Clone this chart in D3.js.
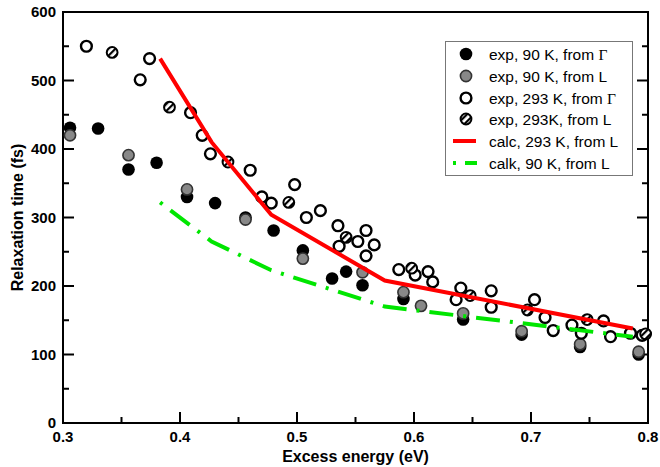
<!DOCTYPE html>
<html><head><meta charset="utf-8">
<script src="https://cdn.jsdelivr.net/npm/d3@7"></script>
<style>
html,body{margin:0;padding:0;background:#fff;}
svg{display:block;font-family:"Liberation Sans",Arial,sans-serif;}
</style></head>
<body>
<svg id="chart" width="660" height="467"></svg>
<script>
// ---- data ----
const exp90G_x = [0.306,0.330,0.356,0.380,0.406,0.430,0.456,0.480,0.505,0.530,0.542,0.556,0.591,0.642,0.692,0.742,0.792];
const exp90G_y = [431,430,370,380,330,321,300,281,252,211,221,201,181,151,129,111,100];

const exp90L_x = [0.306,0.356,0.406,0.456,0.505,0.556,0.591,0.606,0.642,0.692,0.742,0.792];
const exp90L_y = [420,391,341,297,240,220,191,171,160,134,115,104];

const exp293G_x = [0.320,0.366,0.374,0.409,0.419,0.426,0.460,0.470,0.478,0.498,0.508,0.520,0.535,0.536,0.552,0.559,0.566,0.559,0.587,0.601,0.612,0.616,0.640,0.636,0.666,0.666,0.703,0.712,0.719,0.735,0.743,0.762,0.768,0.785,0.795];
const exp293G_y = [550,501,532,453,420,393,369,330,321,348,300,310,288,258,265,281,260,244,224,216,221,206,197,180,193,169,180,154,135,143,131,149,126,131,128];

const exp293L_x = [0.342,0.391,0.441,0.493,0.542,0.598,0.648,0.697,0.748,0.798];
const exp293L_y = [541,461,381,322,271,226,186,165,151,130];

const calc293L_x = [0.383,0.427,0.478,0.575,0.787];
const calc293L_y = [532,410,304,208,138];

const calk90L_x = [0.383,0.427,0.478,0.575,0.787];
const calk90L_y = [322,265,223,170,126];

const xTicks = [0.3,0.4,0.5,0.6,0.7,0.8];
const yTicks = [0,100,200,300,400,500,600];
const legendLabels = ["exp, 90 K, from ", "exp, 90 K, from L", "exp, 293 K, from ", "exp, 293K, from L", "calc, 293 K, from L", "calk, 90 K, from L"];
const xTitle = "Excess energy (eV)";
const yTitle = "Relaxation time (fs)";

// ---- layout ----
const L = 63, R = 648, T = 12, B = 423;
const svg = d3.select("#chart");
const x = d3.scaleLinear().domain([0.3,0.8]).range([L,R]);
const y = d3.scaleLinear().domain([0,600]).range([B,T]);

const defs = svg.append("defs");
const pat = defs.append("pattern").attr("id","hatch").attr("patternUnits","userSpaceOnUse")
  .attr("width",5).attr("height",5).attr("patternTransform","rotate(-45)");
pat.append("rect").attr("width",5).attr("height",5).attr("fill","#fff");
pat.append("rect").attr("width",5).attr("height",2.2).attr("fill","#000");

// axes
const fmtX = d3.format(".1f");
const axB = d3.axisBottom(x).tickValues(d3.range(0.3,0.801,0.05)).tickSize(0).tickFormat("");
const g = svg.append("g");
// frame
g.append("rect").attr("x",L).attr("y",T).attr("width",R-L).attr("height",B-T)
  .attr("fill","none").attr("stroke","#000").attr("stroke-width",2);

const xMinor = d3.range(0,11).map(i=>0.3+i*0.05);
const yMinor = d3.range(0,13).map(i=>i*50);
xMinor.forEach((v,i)=>{
  const len = i%2===0 ? 11 : 6;
  g.append("line").attr("x1",x(v)).attr("x2",x(v)).attr("y1",B).attr("y2",B-len).attr("stroke","#000").attr("stroke-width",2);
});
yMinor.forEach((v,i)=>{
  const len = i%2===0 ? 11 : 6;
  g.append("line").attr("x1",L).attr("x2",L+len).attr("y1",y(v)).attr("y2",y(v)).attr("stroke","#000").attr("stroke-width",2);
  g.append("line").attr("x1",R).attr("x2",R-len).attr("y1",y(v)).attr("y2",y(v)).attr("stroke","#000").attr("stroke-width",2);
});

// tick labels
g.selectAll(".xl").data(xTicks).enter().append("text")
  .attr("x",d=>x(d)).attr("y",B+19).attr("text-anchor","middle")
  .attr("font-size",15).attr("font-weight","bold").text(d=>fmtX(d));
g.selectAll(".yl").data(yTicks).enter().append("text")
  .attr("x",L-7).attr("y",d=>y(d)+5).attr("text-anchor","end")
  .attr("font-size",15).attr("font-weight","bold").text(d=>d);

// titles
svg.append("text").attr("x",(L+R)/2).attr("y",B+39).attr("text-anchor","middle")
  .attr("font-size",16).attr("font-weight","bold").text(xTitle);
svg.append("text").attr("transform",`translate(23,${(T+B)/2}) rotate(-90)`).attr("text-anchor","middle")
  .attr("font-size",16).attr("font-weight","bold").text(yTitle);

// markers
function pts(xs,ys){ return xs.map((v,i)=>[v,ys[i]]); }
const mk = svg.append("g");
mk.selectAll(".b").data(pts(exp90G_x,exp90G_y)).enter().append("circle")
  .attr("cx",d=>x(d[0])).attr("cy",d=>y(d[1])).attr("r",6.3).attr("fill","#000");
mk.selectAll(".g").data(pts(exp90L_x,exp90L_y)).enter().append("circle")
  .attr("cx",d=>x(d[0])).attr("cy",d=>y(d[1])).attr("r",5.6).attr("fill","#888").attr("stroke","#333").attr("stroke-width",1.6);
mk.selectAll(".o").data(pts(exp293G_x,exp293G_y)).enter().append("circle")
  .attr("cx",d=>x(d[0])).attr("cy",d=>y(d[1])).attr("r",5.4).attr("fill","#fff").attr("stroke","#000").attr("stroke-width",2.4);
mk.selectAll(".h").data(pts(exp293L_x,exp293L_y)).enter().append("circle")
  .attr("cx",d=>x(d[0])).attr("cy",d=>y(d[1])).attr("r",5.4).attr("fill","url(#hatch)").attr("stroke","#000").attr("stroke-width",2);

// lines
const line = d3.line().x(d=>x(d[0])).y(d=>y(d[1]));
svg.append("path").attr("d",line(pts(calc293L_x,calc293L_y))).attr("fill","none")
  .attr("stroke","#ff0000").attr("stroke-width",4);
svg.append("path").attr("d",line(pts(calk90L_x,calk90L_y))).attr("fill","none")
  .attr("stroke","#00e600").attr("stroke-width",4).attr("stroke-dasharray","3,10,24,10");

// legend
const lg = svg.append("g");
lg.append("rect").attr("x",445.5).attr("y",41.5).attr("width",187).attr("height",134)
  .attr("fill","#fff").attr("stroke","#777").attr("stroke-width",1);
const rows = [54,76,98,119,141,163];
const sx = 466, tx = 489;
lg.append("circle").attr("cx",sx).attr("cy",rows[0]).attr("r",6.3).attr("fill","#000");
lg.append("circle").attr("cx",sx).attr("cy",rows[1]).attr("r",5.6).attr("fill","#888").attr("stroke","#333").attr("stroke-width",1.6);
lg.append("circle").attr("cx",sx).attr("cy",rows[2]).attr("r",5.4).attr("fill","#fff").attr("stroke","#000").attr("stroke-width",2.4);
lg.append("circle").attr("cx",sx).attr("cy",rows[3]).attr("r",5.4).attr("fill","url(#hatch)").attr("stroke","#000").attr("stroke-width",2);
lg.append("line").attr("x1",453).attr("x2",476).attr("y1",rows[4]).attr("y2",rows[4]).attr("stroke","#ff0000").attr("stroke-width",4);
lg.append("line").attr("x1",453).attr("x2",477).attr("y1",rows[5]).attr("y2",rows[5]).attr("stroke","#00e600").attr("stroke-width",4).attr("stroke-dasharray","3,9,24,10");
legendLabels.forEach((t,i)=>{
  const te = lg.append("text").attr("x",tx).attr("y",rows[i]+5.5).attr("font-size",15.5).attr("fill","#000").text(t);
  if (i===0 || i===2) te.append("tspan").attr("font-family","'Liberation Serif',serif").text("Γ");
});
</script>
</body></html>
